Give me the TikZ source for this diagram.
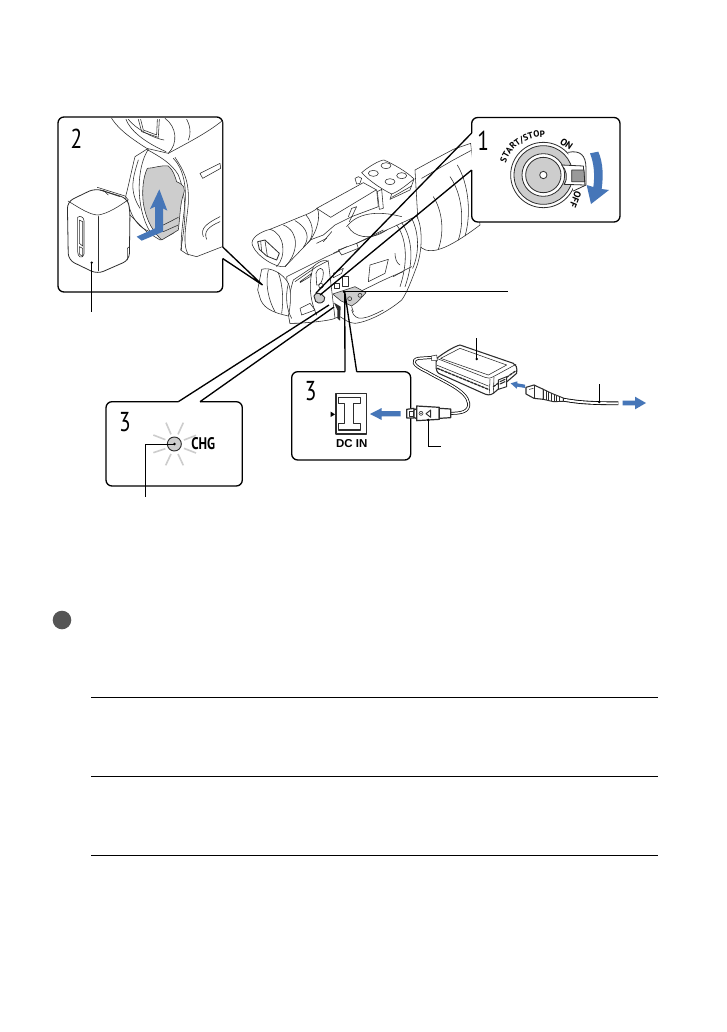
\documentclass[tikz,border=0pt]{standalone}
\usepackage{fontspec}
\setmainfont{PT Sans}
\newfontfamily\dcfont{Liberation Sans}
\usetikzlibrary{decorations.text}
\definecolor{camblue}{RGB}{70,118,184}
\definecolor{shade}{RGB}{205,205,205}
\definecolor{bul}{RGB}{85,85,85}
\definecolor{inkline}{RGB}{45,45,45}
\tikzset{
  x=.75pt,y=-.75pt,
  zoomat/.style 2 args={shift={(#1,#2)},x=.25pt,y=-.25pt},
  ill/.style={draw=inkline,line width=.42pt,line join=round,line cap=round},
  illw/.style={ill,fill=white},
  panel/.style={draw=black,line width=1pt,rounded corners=4.5pt},
  pointer/.style={draw=black,line width=1pt,line join=miter},
  leader/.style={draw=black,line width=.7pt},
  ldot/.style={fill=black,circle,inner sep=0pt,minimum size=2pt},
  arrowfill/.style={fill=camblue,draw=none},
  numlab/.style={font=\fontsize{20.5}{20}\selectfont,inner sep=0pt,text=black},
  rule/.style={draw=black,line width=.75pt},
}
\begin{document}
\begin{tikzpicture}
\useasboundingbox (0,0) rectangle (726,1032);
\fill[white] (0,0) rectangle (726,1032);
% ---------- camera ----------
\begin{scope}[zoomat={220}{110}]
 % lens barrel
 \path[illw] (585,180) -- (640,150) -- (700,118) -- (752,100) -- (780,345) .. controls (740,375) and (690,410) .. (650,420) .. controls (625,425) and (605,420) .. (598,405) -- cycle;
 \path[ill] (605,205) -- (700,150) -- (752,122);
 \path[ill] (640,260) .. controls (665,300) and (675,360) .. (655,418);
 \path[ill] (690,200) .. controls (725,250) and (735,330) .. (715,390);
 \path[ill] (712,165) .. controls (745,220) and (755,310) .. (735,378);
 % main body
 \path[illw] (200,500) -- (320,440) -- (500,360) -- (590,318) .. controls (608,350) and (608,420) .. (590,470) .. controls (575,510) and (560,550) .. (545,570) .. controls (510,600) and (450,635) .. (405,640) .. controls (385,640) and (370,625) .. (360,620) .. controls (330,630) and (250,640) .. (210,640) -- cycle;
 \path[ill] (530,345) .. controls (560,385) and (565,455) .. (540,530);
 \path[ill] (545,338) .. controls (578,385) and (582,455) .. (555,530);
 \path[ill] (575,325) .. controls (598,370) and (598,430) .. (578,475);
 % top handle
 \path[illw] (290,295) -- (430,218) -- (470,240) -- (475,290) -- (395,320) -- (345,345) -- (310,375) -- (270,390) .. controls (290,350) and (300,320) .. (290,295);
 \path[ill] (290,295) -- (332,322) -- (468,240);
 \path[ill] (385,320) -- (395,295) -- (410,290) -- (388,335);
 \path[ill] (380,350) .. controls (410,310) and (470,300) .. (545,320);
 \path[ill] (385,350) .. controls (400,380) and (450,395) .. (500,360);
 \path[ill] (310,395) -- (335,365);
 \path[ill] (290,400) -- (320,385);
 \path[illw] (355,420) -- (410,400) -- (415,415) -- (365,435) -- cycle;
 \path[ill] (340,430) -- (380,410);
 \path[ill] (410,400) -- (490,360);
 % mic cluster
 \path[illw] (425,188) .. controls (445,170) and (480,150) .. (492,150) .. controls (525,165) and (560,185) .. (582,207) .. controls (560,225) and (535,245) .. (515,252) .. controls (490,240) and (450,215) .. (425,188) -- cycle;
 \path[ill] (515,252) -- (510,268) -- (570,240) -- (582,207);
 \path[ill] (515,262) -- (575,228);
 \path[ill] (460,190) ellipse (15 and 9);
 \path[ill] (498,167) ellipse (15 and 9);
 \path[ill] (545,197) ellipse (15 and 9);
 \path[ill] (510,215) ellipse (15 and 9);
 \path[illw] (405,205) -- (415,200) -- (425,205) -- (420,220) -- (410,222) -- cycle;
 \path[illw] (472,245) -- (485,238) -- (490,295) -- (478,298) -- cycle;
 % viewfinder barrel
 \path[illw] (150,358) .. controls (195,340) and (230,325) .. (255,315) .. controls (270,310) and (285,300) .. (292,295) .. controls (302,320) and (292,360) .. (270,392) -- (195,470) .. controls (170,475) and (110,440) .. (97,405) .. controls (90,385) and (120,365) .. (150,358) -- cycle;
 \path[ill] (190,345) .. controls (240,365) and (235,430) .. (195,470);
 \path[ill] (150,358) .. controls (195,370) and (200,440) .. (170,470);
 \path[ill] (225,332) .. controls (265,355) and (270,385) .. (250,412);
 \path[ill] (258,315) .. controls (285,345) and (280,385) .. (262,400);
 \path[illw,line width=.6pt] (113,395) -- (135,390) -- (178,430) -- (170,450) -- (140,438) -- (118,418) -- cycle;
 \path[ill] (122,393) -- (125,425);
 \path[ill] (135,392) -- (142,438);
 % side panel + grip
 \path[illw] (280,470) .. controls (300,450) and (320,448) .. (325,455) -- (345,625) .. controls (330,632) and (260,640) .. (210,640) .. controls (200,600) and (205,560) .. (220,510) -- cycle;
 \path[ill] (225,515) -- (290,470) -- (325,452);
 \path[ill] (240,515) -- (275,490) -- (270,500) -- (240,518);
 \path[ill] (280,470) .. controls (268,510) and (265,560) .. (290,615);
 \path[ill] (240,595) -- (270,580) -- (285,600) -- (245,615) -- cycle;
 \path[illw] (288,490) .. controls (295,470) and (310,470) .. (310,490) .. controls (310,510) and (300,530) .. (290,525) -- cycle;
 \path[ill] (303,527) circle (7);
 \path[illw] (125,478) .. controls (150,470) and (190,490) .. (205,520) .. controls (215,540) and (212,590) .. (205,618) .. controls (170,610) and (135,600) .. (122,570) -- (113,540) -- cycle;
 \path[ill] (145,480) .. controls (135,520) and (145,570) .. (165,605);
 \path[ill] (175,488) .. controls (190,530) and (190,575) .. (185,610);
 \path[ill] (205,520) .. controls (195,560) and (200,600) .. (215,625);
 % front buttons
 \path[ill,fill=white] (450,465) -- (505,448) -- (495,490) -- (445,515) -- cycle;
 \path[ill] (340,490) -- (370,475) -- (365,490) -- (340,503) -- cycle;
 \path[ill] (525,430) .. controls (525,445) and (530,460) .. (540,465);
 \path[ill] (520,500) -- (555,480) -- (575,470);
 \path[ill] (420,545) .. controls (470,520) and (510,500) .. (550,485);
 \path[ill] (395,600) .. controls (405,640) and (440,625) .. (490,600);
 % port flap shade
 \path[ill,fill=shade] (338,552) -- (375,540) -- (405,530) -- (438,548) -- (412,576) -- (395,588) -- (362,572) -- cycle;
 \path[ill] (342,520) rectangle (358,534);
 \path[ill,fill=white] (368,500) rectangle (384,530);
 \path[ill] (389,566) circle (6);
 \path[ill] (420,556) circle (6);
 \fill[inkline] (342,578) -- (362,590) -- (360,632) -- (352,625) -- (352,600) -- cycle;
 \path[ill] (395,590) -- (400,605);
 % rec button shade
 \path[ill,fill=shade,line width=.7pt] (282,558) .. controls (285,545) and (305,548) .. (314,562) .. controls (316,578) and (297,585) .. (287,574) -- cycle;
\end{scope}
% ---------- panel fills ----------
\fill[white,rounded corners=4.5pt] (58,117) rectangle (223,292);
\fill[white,rounded corners=4.5pt] (471.7,117.5) rectangle (620,222);
\fill[white,rounded corners=4.5pt] (291.7,371.7) rectangle (410.7,460);
\fill[white,rounded corners=4.5pt] (106,401.7) rectangle (242.3,486);
% ---------- pointers ----------
\coordinate (p2a) at (222.7,247); \coordinate (p2b) at (222.7,258.5); \coordinate (p2t) at (262.5,285);
\draw[pointer] (p2a) -- (p2t) -- (p2b);
\coordinate (p1a) at (471.7,133); \coordinate (p1b) at (471.7,170); \coordinate (p1t) at (316,293); \coordinate (p1u) at (320,295);
\draw[pointer] (p1a) -- (p1t);
\draw[pointer] (p1b) -- (p1u);
\coordinate (r3a) at (345,371.7); \coordinate (r3b) at (356.7,371.7); \coordinate (r3t) at (344.7,291.7);
\draw[pointer] (r3a) -- (r3t) -- (r3b);
\coordinate (l3a) at (178.3,401.7); \coordinate (l3b) at (200,401.7); \coordinate (l3t) at (329,305); \coordinate (l3u) at (334,307);
\draw[pointer] (l3a) -- (l3t);
\draw[pointer] (l3b) -- (l3u);
% ---------- panel 2 ----------
\draw[panel] (p2a) -- (222.7,117) -- (58,117) -- (58,292) -- (222.7,292) -- (p2b);
\begin{scope}[zoomat={40}{100}]
 \begin{scope}
 \clip (60,55) rectangle (546,575);
 \path[illw] (215,55) .. controls (240,95) and (290,125) .. (320,145) -- (385,160) .. controls (440,130) and (500,100) .. (547,62) -- (547,440) -- (470,470) -- (440,462) -- (422,450) .. controls (440,350) and (440,290) .. (415,225) .. controls (395,190) and (360,170) .. (320,148) -- (285,170) .. controls (275,210) and (265,260) .. (258,285) -- (255,330) -- (320,395) -- (360,420) -- (400,400);
 \end{scope}
 \path[ill] (258,58) .. controls (270,90) and (310,125) .. (378,155);
 \path[ill] (265,58) .. controls (285,85) and (340,115) .. (372,120);
 \path[ill] (295,58) -- (305,95) -- (355,112) -- (358,58);
 \path[ill] (302,58) -- (310,90) -- (350,105) -- (352,58);
 \path[ill] (375,55) .. controls (410,80) and (415,130) .. (385,160);
 \path[ill] (440,58) .. controls (455,85) and (450,110) .. (445,120);
 \path[ill] (325,148) .. controls (290,200) and (285,320) .. (330,395);
 \path[ill] (400,175) .. controls (430,205) and (440,260) .. (435,310) .. controls (430,360) and (420,420) .. (425,450);
 \path[ill] (405,172) .. controls (430,210) and (448,240) .. (445,310) .. controls (440,370) and (425,430) .. (445,465);
 \path[ill] (480,220) -- (540,190) -- (542,205) -- (488,235) -- cycle;
 \path[ill] (490,410) .. controls (480,385) and (500,370) .. (540,350);
 \path[ill] (500,418) .. controls (490,395) and (505,380) .. (540,365);
 \path[ill,fill=shade] (322,205) .. controls (340,205) and (360,195) .. (385,198) .. controls (400,210) and (405,230) .. (410,245) .. controls (430,255) and (440,260) .. (428,290) .. controls (420,320) and (420,350) .. (415,390) -- (365,420) .. controls (345,400) and (320,370) .. (310,310) .. controls (305,270) and (310,230) .. (322,205) -- cycle;
 \path[ill] (370,375) -- (415,352);
 \path[ill] (370,395) -- (415,375);
 \path[ill] (262,300) .. controls (275,360) and (300,385) .. (330,395);
 \path[ill] (295,180) .. controls (280,230) and (265,270) .. (300,325);
 % battery
 \path[illw,line width=.6pt,rounded corners=5pt] (82,305) -- (165,265) -- (262,295) -- (270,330) -- (268,480) -- (172,522) -- (85,480) -- cycle;
 \path[ill] (84,303) .. controls (120,325) and (150,345) .. (175,345) .. controls (205,340) and (235,320) .. (264,300);
 \path[ill] (172,262) -- (255,288) -- (265,300);
 \path[ill] (180,270) -- (240,290);
 \path[ill] (190,270) -- (205,285);
 \path[ill] (113,352) .. controls (120,345) and (132,352) .. (132,362) -- (132,462) .. controls (125,480) and (113,470) .. (113,455) -- cycle;
 \path[ill] (118,360) -- (118,430) -- (128,438) -- (128,365) -- cycle;
 \path[ill] (118,440) -- (118,462) -- (128,470) -- (128,445) -- cycle;
 \path[ill,line width=.7pt] (174,350) -- (174,512);
 \path[ill] (268,440) -- (262,445) -- (262,480);
 % arrow
 \path[arrowfill] (358,268) -- (382,332) -- (369,325) -- (369,395) -- (305,422) -- (290,410) -- (345,385) -- (345,320) -- (330,327) -- cycle;
\end{scope}
\node[numlab,inner sep=0pt] (n2) at (76.5,139) {\scalebox{.78}[1]{2}};
\draw[leader] (91.7,262.7) -- (91.7,312);
\node[ldot] (d2) at (91.7,262.7) {};
% ---------- panel 1 ----------
\draw[panel] (p1a) -- (471.7,117.5) -- (620,117.5) -- (620,222) -- (471.7,222) -- (p1b);
\begin{scope}[zoomat={460}{105}]
 \path[illw,line width=.6pt] (250,210) circle (98);
 \path[illw,line width=.6pt] (325,142) .. controls (360,135) and (378,150) .. (378,190) -- (378,240) -- (340,258);
 \fill[white] (325,146) -- (374,190) -- (374,236) -- (330,250) -- cycle;
 \path[ill,fill=shade,line width=.6pt] (250,210) circle (88);
 \path[ill,fill=white,line width=.6pt] (250,210) circle (64);
 \path[ill,fill=shade,line width=.6pt] (250,210) circle (53);
 \path[ill,fill=white,line width=.6pt] (250,210) circle (11);
 \path[ill,fill=white,line width=.6pt] (305,180) -- (370,183) -- (375,240) -- (312,238) .. controls (325,220) and (320,195) .. (305,180);
 \path[ill,fill=shade!75!black,line width=.6pt] (335,195) -- (372,195) -- (374,230) -- (335,230) -- cycle;
 \path[arrowfill] (390,145) -- (415,140) .. controls (430,175) and (430,215) .. (425,252) -- (447,255) -- (393,297) -- (380,240) -- (400,246) .. controls (405,210) and (402,175) .. (390,145) -- cycle;
\end{scope}
\node[numlab] (n1) at (483.3,141) {\scalebox{.78}[1]{1}};
\path[postaction={decorate},decoration={text along path,text align=center,text={|\fontsize{6.8}{8}\selectfont\bfseries|START/STOP}}] (505,165) .. controls (511,146) and (527,136) .. (547,137);
\node[font=\fontsize{7.2}{8}\selectfont\bfseries,inner sep=0pt,rotate=-35] (on) at (566.5,144) {ON};
\node[font=\fontsize{7.2}{8}\selectfont\bfseries,inner sep=0pt,rotate=-112] (off) at (575.5,199.5) {OFF};
% ---------- panel 3 right ----------
\draw[panel] (r3a) -- (291.7,371.7) -- (291.7,460) -- (410.7,460) -- (410.7,371.7) -- (r3b);
\begin{scope}[zoomat={280}{330}]
 \path[ill,line width=.8pt] (168,190) rectangle (260,312);
 \path[ill,line width=1pt] (176,203) -- (242,203) -- (242,221) -- (221,221) -- (221,280) -- (242,280) -- (242,300) -- (176,300) -- (176,280) -- (193,280) -- (193,221) -- (176,221) -- cycle;
 \fill (152,245) -- (165,253) -- (152,261) -- cycle;
 \path[arrowfill] (362,243) -- (305,243) -- (305,234) -- (270,252) -- (305,270) -- (305,259) -- (362,259) -- cycle;
 % cable
 \path[draw=black,line width=2.2pt] (512,250) .. controls (545,250) and (568,245) .. (566,220) .. controls (560,180) and (490,155) .. (440,125) .. controls (395,105) and (395,90) .. (415,85) -- (460,82);
 \path[draw=white,line width=1.1pt] (512,250) .. controls (545,250) and (568,245) .. (566,220) .. controls (560,180) and (490,155) .. (440,125) .. controls (395,105) and (395,90) .. (415,85) -- (460,82);
 % plug
 \path[illw,line width=.9pt] (380,238) -- (402,235) -- (402,264) -- (380,264) -- cycle;
 \path[ill] (388,244) rectangle (400,258);
 \path[illw,line width=.9pt] (402,240) -- (410,236) -- (410,266) -- (402,262) -- cycle;
 \path[illw,line width=.9pt] (410,228) -- (478,232) -- (478,268) -- (410,272) -- cycle;
 \path[illw,line width=.9pt] (478,235) -- (512,237) -- (512,263) -- (478,265) -- cycle;
 \path[ill] (423,250) circle (6);
 \fill (423,250) circle (2);
 \path[ill,line width=.7pt] (452,240) -- (438,251) -- (452,262) -- cycle;
 % adapter
 \path[illw,line width=.8pt] (470,85) .. controls (490,70) and (520,50) .. (540,45) -- (700,100) .. controls (708,104) and (712,110) .. (710,130) -- (640,190) .. controls (630,197) and (620,195) .. (610,190) -- (476,130) .. controls (468,125) and (466,110) .. (470,85) -- cycle;
 \path[ill] (470,85) -- (615,142) .. controls (625,146) and (630,145) .. (640,140) -- (708,103);
 \path[ill] (482,85) -- (540,55) -- (680,105) -- (625,135) -- cycle;
 \path[ill] (630,148) -- (628,190);
 \path[ill] (642,142) -- (640,188);
 \path[ill,line width=1pt,dash pattern=on 2pt off 1pt] (472,115) -- (625,178);
 \path[ill] (472,106) -- (625,168);
 \path[ill,line width=1pt,dash pattern=on 2pt off 1pt] (640,170) -- (708,122);
 \path[illw,line width=.7pt] (655,150) -- (680,140) -- (680,170) -- (655,178) -- cycle;
 \path[ill,line width=.8pt] (660,155) -- (675,148);
 \path[ill,line width=.8pt] (660,162) -- (675,155);
 \path[illw] (455,78) -- (470,75) -- (472,92) -- (455,92) -- cycle;
 % power cord
 \path[arrowfill] (692,160) -- (712,154) -- (712,160) -- (735,164) -- (735,174) -- (712,170) -- (710,176) -- cycle;
 \path[draw=black,line width=2.8pt] (850,209) .. controls (880,214) and (910,220) .. (1015,220);
 \path[draw=white,line width=1.5pt] (850,209) .. controls (880,214) and (910,220) .. (1015,220);
 \path[illw,line width=.8pt] (738,172) -- (762,165) -- (790,178) -- (790,208) -- (762,205) -- (738,192) -- cycle;
 \path[ill] (762,165) -- (762,205);
 \path[ill] (748,178) -- (760,175);
 \path[illw,line width=.7pt] (790,178) -- (815,190) -- (850,204) -- (850,214) -- (820,215) -- (790,208) -- cycle;
 \path[draw=inkline,line width=.45pt] (798,182) -- (798,210) (806,186) -- (806,212) (814,190) -- (814,214) (822,194) -- (822,215) (830,197) -- (830,215) (838,200) -- (838,215);
 \path[arrowfill] (1028,212) -- (1065,212) -- (1065,200) -- (1098,219) -- (1065,238) -- (1065,226) -- (1028,226) -- cycle;
\end{scope}
\node[numlab] (n3r) at (310.7,391) {\scalebox{.78}[1]{3}};
\node[font=\fontsize{8.6}{9}\selectfont\dcfont\bfseries,inner sep=0pt] (dcin) at (351.7,443.3) {DC IN};
% ---------- panel 3 left ----------
\draw[panel] (l3a) -- (106,401.7) -- (106,486) -- (242.3,486) -- (242.3,401.7) -- (l3b);
\begin{scope}[zoomat={90}{390}]
 \path[ill,fill=shade,line width=.7pt] (253,162) circle (21);
 \path[draw=shade,line width=1.2pt] (243,133) -- (228,98) (264,133) -- (280,98) (226,149) -- (190,135) (282,150) -- (318,136) (226,176) -- (190,188) (282,175) -- (318,189) (243,192) -- (227,226) (264,192) -- (280,226);
\end{scope}
\node[numlab] (n3l) at (125,421.7) {\scalebox{.78}[1]{3}};
\node[font=\fontsize{12.6}{13}\selectfont\bfseries,inner sep=0pt] (chg) at (203.3,444) {\scalebox{.78}[1]{CHG}};
\coordinate (chgd) at (174.5,444);
\coordinate (chgc) at (145,444);
\coordinate (chge) at (145,497);
\draw[leader] (chgd) -- (chgc) -- (chge);
\node[ldot] (d3) at (chgd) {};
% ---------- leaders ----------
\coordinate (camL) at (344,291.7); \coordinate (camR) at (508,291.7);
\draw[leader] (camL) -- (camR);
\node[ldot] (dc) at (camL) {};
\coordinate (adT) at (476.7,338); \coordinate (adD) at (476.7,359);
\draw[leader] (adT) -- (adD);
\node[ldot] (da) at (adD) {};
\coordinate (crT) at (599.3,384); \coordinate (crD) at (599.3,402);
\draw[leader] (crT) -- (crD);
\node[ldot] (dr) at (crD) {};
\coordinate (plT) at (428.3,420); \coordinate (plC) at (428.3,446); \coordinate (plE) at (441,446);
\draw[leader] (plT) -- (plC) -- (plE);
\node[ldot] (dp) at (plT) {};
% ---------- bullet + rules ----------
\fill[bul] (62,620) circle (9.3);
\draw[rule] (91,697.5) -- (658,697.5);
\draw[rule] (91,776.5) -- (658,776.5);
\draw[rule] (91,855.5) -- (658,855.5);
\end{tikzpicture}
\end{document}
